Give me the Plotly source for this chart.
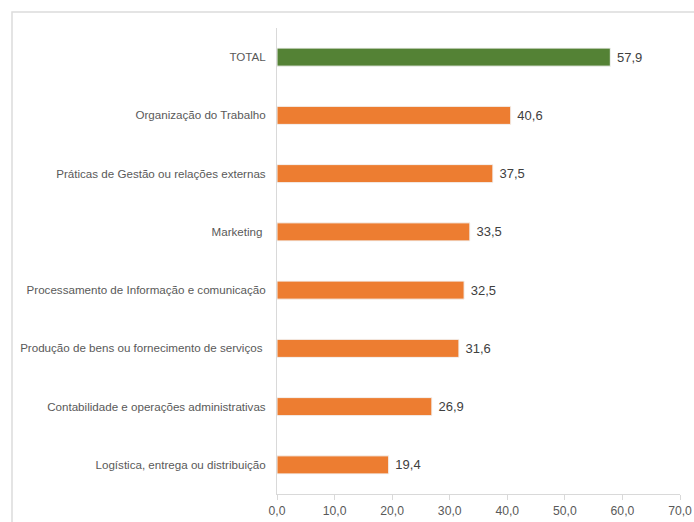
import plotly.graph_objects as go

categories = [
    "TOTAL",
    "Organização do Trabalho",
    "Práticas de Gestão ou relações externas",
    "Marketing ",
    "Processamento de Informação e comunicação",
    "Produção de bens ou fornecimento de serviços ",
    "Contabilidade e operações administrativas",
    "Logística, entrega ou distribuição",
]
values = [57.9, 40.6, 37.5, 33.5, 32.5, 31.6, 26.9, 19.4]
colors = ["#548235"] + ["#ED7D31"] * 7
tick_vals = [0, 10, 20, 30, 40, 50, 60, 70]

W, H = 694, 522
L, R, T, B = 277, 14, 28, 28
PW, PH = W - L - R, H - T - B

fig = go.Figure(
    go.Bar(
        x=values,
        y=categories,
        orientation="h",
        marker=dict(color=colors, line=dict(color="#f4f4f4", width=1)),
        width=0.31,
        text=values,
        texttemplate=" %{x:.1f}",
        textposition="outside",
        textfont=dict(family="Liberation Sans, Arial", size=13, color="#404040"),
        cliponaxis=False,
    )
)

fig.update_layout(
    width=W,
    height=H,
    margin=dict(l=L, r=R, t=T, b=B),
    paper_bgcolor="white",
    plot_bgcolor="white",
    separators=",.",
    showlegend=False,
    font=dict(family="Liberation Sans, Arial", size=12, color="#595959"),
    xaxis=dict(
        range=[0, 70],
        tickvals=tick_vals,
        tickformat=".1f",
        showgrid=False,
        zeroline=False,
        showline=True,
        linecolor="#d9d9d9",
        linewidth=1,
        ticks="outside",
        ticklen=5,
        tickcolor="#d9d9d9",
        tickfont=dict(size=12.2, color="#595959"),
        automargin=False,
    ),
    yaxis=dict(
        categoryorder="array",
        categoryarray=categories[::-1],
        showgrid=False,
        zeroline=False,
        showline=True,
        linecolor="#d9d9d9",
        linewidth=1,
        ticks="outside",
        ticklen=8,
        tickcolor="rgba(0,0,0,0)",
        tickfont=dict(size=11.6, color="#595959"),
        automargin=False,
    ),
    shapes=[
        dict(
            type="rect",
            xref="paper",
            yref="paper",
            x0=(12 - L) / PW,
            x1=(740 - L) / PW,
            y0=-(580 - T - PH) / PH,
            y1=(T + PH - 12) / PH,
            line=dict(color="#dcdcdc", width=1.5),
            fillcolor="rgba(0,0,0,0)",
            layer="below",
        )
    ],
)

fig.write_html(
    "out.html",
    config={"displayModeBar": False},
    post_script="document.body.style.margin='0';document.body.style.overflow='hidden';",
)
